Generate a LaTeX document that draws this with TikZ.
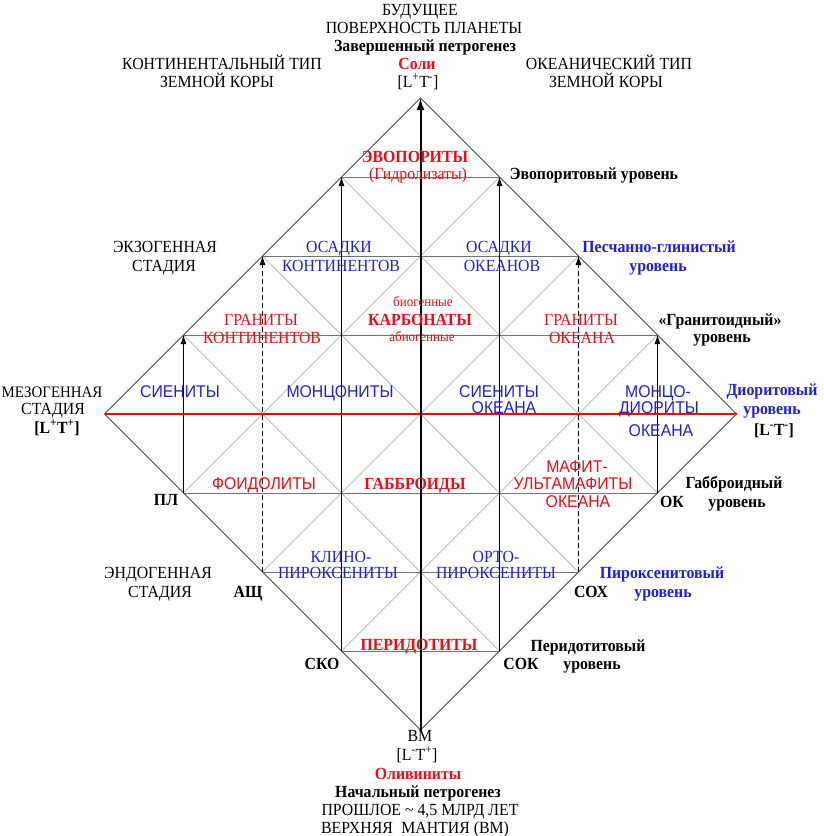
\documentclass[tikz,border=0pt]{standalone}
\usepackage{fontspec}
\setmainfont{Liberation Serif}[FakeStretch=0.93]
\newfontfamily\sansf{Liberation Sans}[FakeStretch=0.93]
\usetikzlibrary{arrows.meta}
\definecolor{lred}{RGB}{240,10,20}
\definecolor{lblue}{RGB}{30,30,225}
\definecolor{linered}{RGB}{255,0,0}
\newcommand\fs{\fontsize{17}{18.5}\selectfont}
\begin{document}
\begin{tikzpicture}[x=1pt,y=-1pt,
  lab/.style={inner sep=0pt, anchor=base, font=\fs},
  bl/.style={lab, font=\fs\bfseries},
  rd/.style={lab, text=lred},
  rdb/.style={bl, text=lred},
  bu/.style={lab, text=lblue},
  bub/.style={bl, text=lblue},
  sr/.style={lab, font=\fs\sansf, text=lred},
  sb/.style={lab, font=\fs\sansf, text=lblue},
  sm/.style={lab, font=\fontsize{14}{16}\selectfont, text=lred},
  gridl/.style={draw=black!38, line width=0.6pt},
  hgrid/.style={draw=black!55, line width=0.7pt},
  edgel/.style={draw=black!70, line width=0.9pt},
  redl/.style={draw=linered, line width=1.6pt},
  vline/.style={draw=black, line width=0.8pt, -{Latex[length=9pt,width=6pt]}},
  dline/.style={vline, dash pattern=on 5pt off 3pt},
  axis/.style={draw=black, line width=2pt, -{Latex[length=12pt,width=8pt]}}]
\useasboundingbox[fill=white] (0,0) rectangle (824,836);
\foreach \i in {0,...,8}{\foreach \j in {0,...,8}{
  \coordinate (g\i\j) at ({420.5+79*(\i-4)},{414-79*(\j-4)});}}
% diagonal grid
\draw[gridl] (g37) -- (g73);
\draw[gridl] (g26) -- (g62);
\draw[gridl] (g15) -- (g51);
\draw[gridl] (g75) -- (g31);
\draw[gridl] (g66) -- (g22);
\draw[gridl] (g57) -- (g13);
% horizontal levels
\draw[hgrid] (g37) -- (g57);
\draw[hgrid] (g26) -- (g66);
\draw[hgrid] (g15) -- (g75);
\draw[hgrid] (g13) -- (g73);
\draw[hgrid] (g22) -- (g62);
\draw[hgrid] (g31) -- (g51);
% outer diamond
\draw[edgel] (g48) -- (g84) -- (g40) -- (g04) -- cycle;
\draw[redl] (g04) -- (g84);
% verticals
\draw[vline] (g13) -- (g15);
\draw[dline] (g22) -- (g26);
\draw[vline] (g31) -- (g37);
\draw[axis] (g40) -- (g48);
\draw[vline] (g51) -- (g57);
\draw[dline] (g62) -- (g66);
\draw[vline] (g73) -- (g75);
% top
\node[lab] (tA) at (420,15) {БУДУЩЕЕ};
\node[lab] (tB) at (424,33) {ПОВЕРХНОСТЬ ПЛАНЕТЫ};
\node[bl] (tC) at (425,51) {Завершенный петрогенез};
\node[rdb] (tD) at (417,69) {Соли};
\node[lab] (tE) at (418,87) {[L\textsuperscript{+}T\textsuperscript{-}]};
\node[lab] (tF) at (222,69) {КОНТИНЕНТАЛЬНЫЙ ТИП};
\node[lab] (tG) at (217,87) {ЗЕМНОЙ КОРЫ};
\node[lab] (tH) at (609,69) {ОКЕАНИЧЕСКИЙ ТИП};
\node[lab] (tI) at (606,87) {ЗЕМНОЙ КОРЫ};
% evaporite level
\node[rdb] (e1) at (415,162) {ЭВОПОРИТЫ};
\node[rd] (e2) at (418,179) {(Гидролизаты)};
\node[bl] (e3) at (594,179) {Эвопоритовый уровень};
% exogenic
\node[lab] (x1) at (165,252) {ЭКЗОГЕННАЯ};
\node[lab] (x2) at (164,271) {СТАДИЯ};
\node[bu] (o1) at (339,252) {ОСАДКИ};
\node[bu] (o2) at (341,271) {КОНТИНЕНТОВ};
\node[bu] (o3) at (499,252) {ОСАДКИ};
\node[bu] (o4) at (502,271) {ОКЕАНОВ};
\node[bub] (o5) at (659,252) {Песчанно-глинистый};
\node[bub] (o6) at (658,271) {уровень};
% granite level
\node[sm] (c1) at (423,306) {биогенные};
\node[rdb] (c2) at (420,325) {КАРБОНАТЫ};
\node[sm] (c3) at (422,341) {абиогенные};
\node[rd] (c4) at (261,325) {ГРАНИТЫ};
\node[rd] (c5) at (262,343) {КОНТИНЕНТОВ};
\node[rd] (c6) at (581,325) {ГРАНИТЫ};
\node[rd] (c7) at (582,343) {ОКЕАНА};
\node[bl] (c8) at (720,325) {«Гранитоидный»};
\node[bl] (c9) at (722,342) {уровень};
% diorite level
\node[lab, font=\fontsize{16}{18}\selectfont] (m1) at (52,397) {МЕЗОГЕННАЯ};
\node[lab] (m2) at (53,414) {СТАДИЯ};
\node[bl] (m3) at (57,433) {[L\textsuperscript{+}T\textsuperscript{+}]};
\node[sb] (m4) at (180,397) {СИЕНИТЫ};
\node[sb] (m5) at (340,397) {МОНЦОНИТЫ};
\node[sb] (m6) at (499,397) {СИЕНИТЫ};
\node[sb] (m7) at (504,413) {ОКЕАНА};
\node[sb] (m8) at (658,397) {МОНЦО-};
\node[sb] (m9) at (659,413) {ДИОРИТЫ};
\node[sb] (m10) at (661,436) {ОКЕАНА};
\node[bub] (m11) at (772,395) {Диоритовый};
\node[bub] (m12) at (772,414) {уровень};
\node[bl] (m13) at (774,435) {[L\textsuperscript{-}T\textsuperscript{-}]};
% gabbro level
\node[sr] (f1) at (264,489) {ФОИДОЛИТЫ};
\node[rdb] (f2) at (415,489) {ГАББРОИДЫ};
\node[sr] (f3) at (577,472) {МАФИТ-};
\node[sr] (f4) at (573,489) {УЛЬТАМАФИТЫ};
\node[sr] (f5) at (578,507) {ОКЕАНА};
\node[bl] (f6) at (166,505) {ПЛ};
\node[bl] (f7) at (672,507) {ОК};
\node[bl] (f8) at (734,488) {Габброидный};
\node[bl] (f9) at (737,507) {уровень};
% pyroxenite level
\node[lab] (p1) at (158,578) {ЭНДОГЕННАЯ};
\node[lab] (p2) at (160,597) {СТАДИЯ};
\node[bl] (p3) at (248,597) {АЩ};
\node[bu] (p4) at (341,562) {КЛИНО-};
\node[bu] (p5) at (338,578) {ПИРОКСЕНИТЫ};
\node[bu] (p6) at (496,562) {ОРТО-};
\node[bu] (p7) at (496,578) {ПИРОКСЕНИТЫ};
\node[bl] (p8) at (591,597) {СОХ};
\node[bub] (p9) at (662,578) {Пироксенитовый};
\node[bub] (p10) at (663,597) {уровень};
% peridotite level
\node[rdb] (d1) at (419,650) {ПЕРИДОТИТЫ};
\node[bl] (d2) at (322,669) {СКО};
\node[bl] (d3) at (521,669) {СОК};
\node[bl] (d4) at (588,651) {Перидотитовый};
\node[bl] (d5) at (592,669) {уровень};
% bottom
\node[lab] (b1) at (420,741) {ВМ};
\node[lab] (b2) at (417,760) {[L\textsuperscript{-}T\textsuperscript{+}]};
\node[rdb] (b3) at (418,779) {Оливиниты};
\node[bl] (b4) at (418,797) {Начальный петрогенез};
\node[lab] (b5) at (420,815) {ПРОШЛОЕ \textasciitilde\ 4,5 МЛРД ЛЕТ};
\node[lab] (b6) at (415,833) {ВЕРХНЯЯ\hspace{0.5em}МАНТИЯ (ВМ)};
\end{tikzpicture}
\end{document}
